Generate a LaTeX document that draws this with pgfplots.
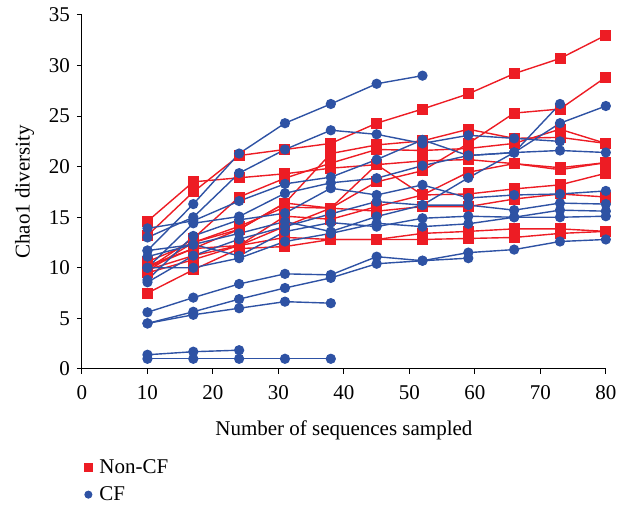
\documentclass[border=0pt]{standalone}
\usepackage{fontspec}
\setmainfont{Liberation Serif}
\usepackage{pgfplots}
\pgfplotsset{compat=1.18}

\definecolor{ncf}{RGB}{237,28,36}
\definecolor{cfb}{RGB}{46,82,164}

\begin{document}
\begin{tikzpicture}
\pgfplotsset{
  noncf/.style={color=ncf, line width=0.7pt, mark=square*, mark size=2.4pt, forget plot},
  cf/.style={color=cfb, line width=0.7pt, mark=*, mark size=2.2pt, forget plot},
}
\begin{axis}[
  width=262pt, height=177pt, scale only axis,
  xmin=0, xmax=80, ymin=0, ymax=35,
  xtick={0,10,...,80}, ytick={0,5,...,35},
  axis lines*=left, axis line style={-, line width=0.5pt},
  tick align=outside, major tick length=2.5pt,
  tick style={black, line width=0.5pt},
  clip=false,
  font=\fontsize{10.5}{12}\selectfont,
  tick label style={font=\fontsize{10.5}{12}\selectfont},
  xticklabel style={yshift=-2.5pt},
  /pgf/number format/assume math mode=true,
  xlabel={Number of sequences sampled},
  ylabel={Chao1 diversity},
  xlabel style={yshift=-3.5pt},
  ylabel style={yshift=0.5pt},
  legend style={at={(rel axis cs:0,0)}, anchor=north west, xshift=-2pt, yshift=-41pt,
    draw=none, fill=none, legend cell align=left, row sep=1pt,
    font=\fontsize{10.5}{12}\selectfont},
]
\addlegendimage{only marks, mark=square*, color=ncf, mark size=2pt}
\addlegendentry{\hspace{1.5pt}Non-CF}
\addlegendimage{only marks, mark=*, color=cfb, mark size=1.8pt}
\addlegendentry{\hspace{1.5pt}CF}

% Non-CF
\addplot[noncf] coordinates {(10,14.6)(17,18.5)(24,18.9)(31,19.3)(38,19.85)(45,20.2)(52,20.57)(59,20.7)(66,20.3)(73,19.7)(80,20.4)};
\addplot[noncf] coordinates {(10,13.2)(17,17.5)(24,21.1)(31,21.7)(38,22.3)(45,24.3)(52,25.7)(59,27.2)(66,29.2)(73,30.7)(80,33.0)};
\addplot[noncf] coordinates {(10,10.6)(17,12.5)(24,14.1)(31,16.0)(38,15.9)(45,18.5)(52,19.6)(59,22.3)(66,25.3)(73,25.7)(80,28.85)};
\addplot[noncf] coordinates {(10,10.2)(17,11.9)(24,13.8)(31,16.4)(38,21.3)(45,22.15)(52,22.55)(59,23.7)(66,22.8)(73,22.9)(80,22.3)};
\addplot[noncf] coordinates {(10,9.9)(17,12.9)(24,17.0)(31,18.86)(38,20.35)(45,21.7)(52,21.6)(59,21.8)(66,22.3)(73,23.7)(80,22.3)};
\addplot[noncf] coordinates {(10,9.5)(17,10.8)(24,12.2)(31,15.1)(38,14.8)(45,16.05)(52,17.2)(59,19.45)(66,20.3)(73,19.9)(80,20.4)};
\addplot[noncf] coordinates {(10,7.5)(17,9.8)(24,11.9)(31,12.1)(38,12.8)(45,12.8)(52,12.8)(59,12.9)(66,13.0)(73,13.4)(80,13.6)};
\addplot[noncf] coordinates {(10,10.0)(17,11.9)(24,12.2)(31,14.1)(38,15.9)(45,15.6)(52,16.05)(59,16.05)(66,16.8)(73,17.3)(80,17.0)};
\addplot[noncf] coordinates {(10,9.7)(17,12.5)(24,13.8)(31,16.4)(38,15.9)(45,20.2)(52,17.2)(59,17.3)(66,17.8)(73,18.2)(80,19.35)};
\addplot[noncf] coordinates {(10,9.8)(17,11.2)(24,12.2)(31,13.0)(38,12.8)(45,12.8)(52,13.4)(59,13.6)(66,13.85)(73,13.85)(80,13.6)};

% CF
\addplot[cf] coordinates {(10,11.7)(17,16.3)(24,21.3)(31,24.3)(38,26.2)(45,28.2)(52,29.0)};
\addplot[cf] coordinates {(10,13.0)(17,15.0)(24,19.36)(31,21.7)(38,23.6)(45,23.2)(52,22.3)(59,23.1)(66,22.8)(73,22.5)};
\addplot[cf] coordinates {(10,10.0)(17,14.4)(24,15.07)(31,17.37)(38,18.4)(45,18.86)(52,20.1)(59,21.1)(66,21.4)(73,21.6)(80,21.4)};
\addplot[cf] coordinates {(10,13.9)(17,14.64)(24,16.6)(31,18.3)(38,18.96)(45,20.7)(52,22.65)(59,21.1)(66,21.4)(73,24.3)(80,26.0)};
\addplot[cf] coordinates {(10,11.1)(17,12.3)(24,13.4)(31,14.57)(38,13.58)(45,15.07)(52,16.2)(59,18.9)(66,21.4)(73,26.2)};
\addplot[cf] coordinates {(10,8.8)(17,13.15)(24,14.74)(31,15.4)(38,17.87)(45,17.2)(52,18.2)(59,16.9)(66,17.2)(73,17.3)(80,17.6)};
\addplot[cf] coordinates {(10,8.57)(17,11.2)(24,12.83)(31,14.07)(38,15.33)(45,16.55)(52,16.2)(59,16.2)(66,15.7)(73,16.4)(80,16.3)};
\addplot[cf] coordinates {(10,11.7)(17,12.3)(24,11.18)(31,13.58)(38,14.47)(45,14.07)(52,14.9)(59,15.1)(66,15.0)(73,15.7)(80,15.6)};
\addplot[cf] coordinates {(10,10.0)(17,10.0)(24,10.95)(31,12.6)(38,13.4)(45,14.4)(52,14.07)(59,14.35)(66,15.0)(73,15.0)(80,15.1)};
\addplot[cf] coordinates {(10,5.6)(17,7.05)(24,8.4)(31,9.4)(38,9.3)(45,11.1)(52,10.7)(59,11.5)(66,11.8)(73,12.6)(80,12.8)};
\addplot[cf] coordinates {(10,4.5)(17,5.65)(24,6.9)(31,8.0)(38,9.0)(45,10.4)(52,10.7)(59,10.95)};
\addplot[cf] coordinates {(10,4.5)(17,5.35)(24,6.0)(31,6.65)(38,6.5)};
\addplot[cf] coordinates {(10,1.4)(17,1.7)(24,1.85)};
\addplot[cf] coordinates {(10,1.0)(17,1.0)(24,1.0)(31,1.0)(38,1.0)};

% page margins as in the reference
\path (rel axis cs:0,0) ++(-41pt,-68pt) (rel axis cs:1,1) ++(8.5pt,7.5pt);
\end{axis}
\end{tikzpicture}
\end{document}
